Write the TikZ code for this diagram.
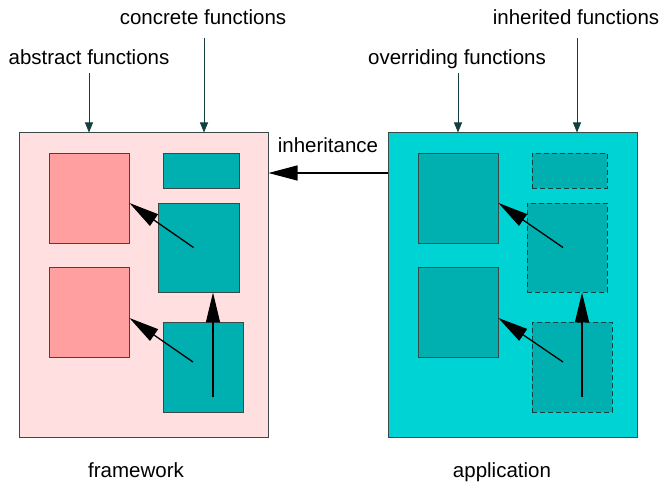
\documentclass[tikz,border=0pt]{standalone}
\usepackage{fontspec}
\setmainfont{Liberation Sans}
\usetikzlibrary{arrows.meta}
\definecolor{fwback}{HTML}{FFDFDF}
\definecolor{absfill}{HTML}{FF9F9F}
\definecolor{confill}{HTML}{00B0B0}
\definecolor{appback}{HTML}{00D3D3}
\definecolor{boxedge}{HTML}{3A4848}
\definecolor{pointer}{HTML}{123F3F}
\tikzset{
  panel/.style={draw=boxedge, line width=1pt, inner sep=0pt, minimum width=249pt, minimum height=304pt},
  fnbox/.style={draw=boxedge, fill=confill, line width=0.8pt, inner sep=0pt, minimum width=80pt, minimum height=90pt},
  inhbox/.style={fnbox, draw=pointer, dash pattern=on 5pt off 3pt},
  callarrow/.style={-{Triangle[length=30pt,width=14pt]}, line width=1.3pt},
  ptr/.style={draw=pointer, line width=0.8pt, -{Triangle[length=10pt,width=8pt]}},
  lbl/.style={anchor=base, inner sep=0pt}
}

\begin{document}
\begin{tikzpicture}[x=1pt, y=-1pt, font=\fontsize{20.5}{24}\selectfont]
    \useasboundingbox (0,0) rectangle (664,486);
    % framework
    \node[panel, fill=fwback] (fw) at (143.5, 285) {};
    \node[fnbox, fill=absfill] (abs1) at (89, 198) {};
    \node[fnbox, fill=absfill] (abs2) at (89, 312) {};
    \node[fnbox, minimum width=76pt, minimum height=35pt] (con1) at (201, 170.5) {};
    \node[fnbox, minimum width=81pt, minimum height=89pt] (con2) at (198.5, 247.5) {};
    \node[fnbox] (con3) at (203, 367) {};
    % application
    \node[panel, fill=appback] (app) at (512.5, 285) {};
    \node[fnbox] (ovr1) at (458, 198) {};
    \node[fnbox] (ovr2) at (458, 312) {};
    \node[inhbox, minimum width=75pt, minimum height=35pt] (inh1) at (569.5, 170.5) {};
    \node[inhbox, minimum height=89pt] (inh2) at (567, 247.5) {};
    \node[inhbox] (inh3) at (572, 367) {};

    \node[lbl] (lblAbs) at (89, 65) {abstract functions};
    \node[lbl] (lblCon) at (203, 25) {concrete functions};
    \node[lbl] (lblOvr) at (457, 65) {overriding functions};
    \node[lbl] (lblInh) at (576, 25) {inherited functions};
    \node[lbl] (lblFw) at (136, 477) {framework};
    \node[lbl] (lblApp) at (502, 477) {application};

    \draw[ptr] ([yshift=-8pt]lblAbs.base) -- (lblAbs.base |- fw.north);
    \draw[ptr] ([shift={(1pt,-13pt)}]lblCon.base) -- ([xshift=1pt]lblCon.base |- fw.north);
    \draw[ptr] ([shift={(1pt,-8pt)}]lblOvr.base) -- ([xshift=1pt]lblOvr.base |- app.north);
    \draw[ptr] ([shift={(1pt,-13pt)}]lblInh.base) -- ([xshift=1pt]lblInh.base |- app.north);

    \draw ([yshift=112pt]app.west) edge[-{Triangle[length=29pt,width=15pt]}, line width=1.3pt]
      node[anchor=base, yshift=20pt] {inheritance} ([yshift=112pt]fw.east);

    \coordinate (fwup) at ([shift={(10pt,-30pt)}]con3.center);
    \draw[callarrow] ([xshift=-5pt]con2.center) -- ([yshift=-5pt]abs1.east);
    \draw[callarrow] ([shift={(-10pt,5pt)}]con3.center) -- ([yshift=-6pt]abs2.east);
    \draw[callarrow] (fwup) -- (fwup |- con2.south);

    \coordinate (appup) at ([shift={(10pt,-30pt)}]inh3.center);
    \draw[callarrow] ([xshift=-4pt]inh2.center) -- ([yshift=-5pt]ovr1.east);
    \draw[callarrow] ([shift={(-9pt,5pt)}]inh3.center) -- ([yshift=-6pt]ovr2.east);
    \draw[callarrow] (appup) -- (appup |- inh2.south);
  \end{tikzpicture}
\end{document}
